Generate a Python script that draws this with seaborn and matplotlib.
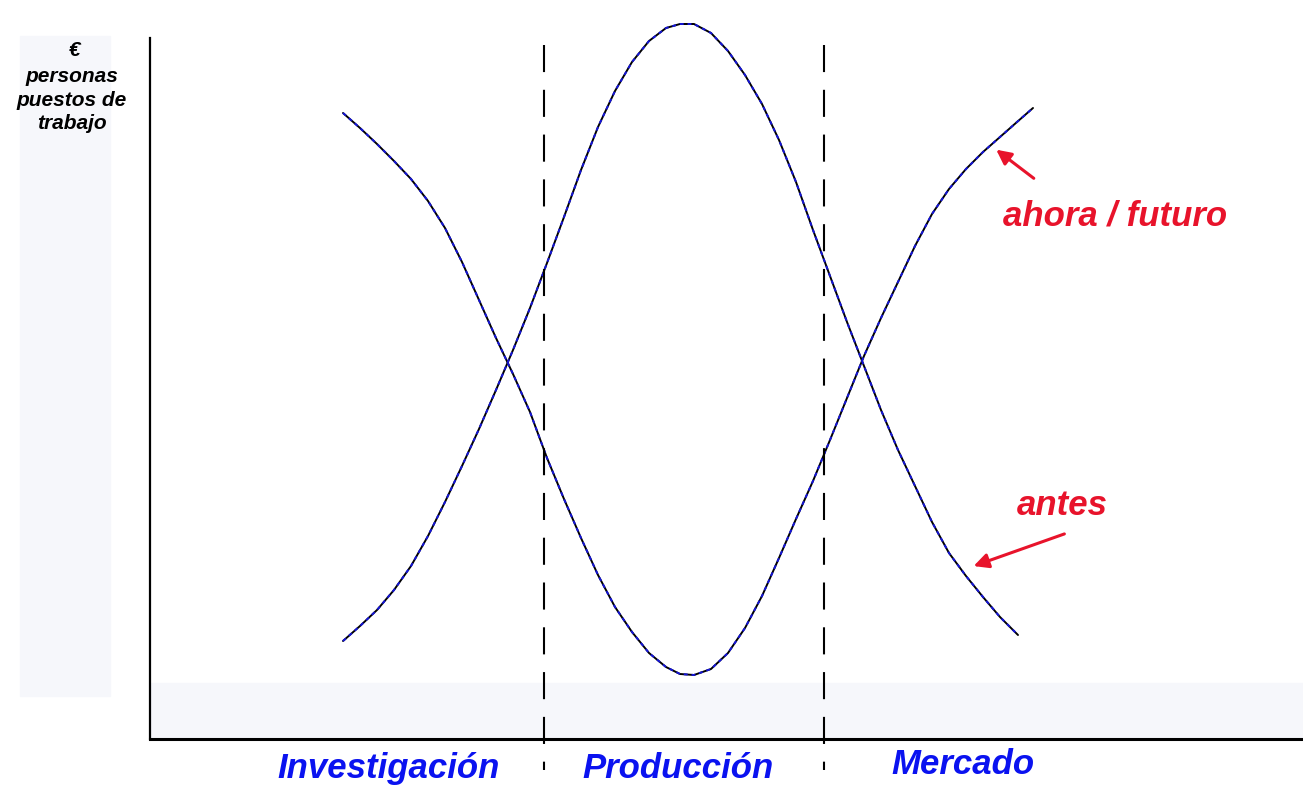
import pandas as pd
import matplotlib.pyplot as plt
import seaborn as sns
from matplotlib.patches import Rectangle

# values, in the chart's own units
# (x: 0-1153 along the horizontal axis, y: 0-701 up the vertical axis)
x_ahora = [193, 210, 227, 244, 261, 278, 295, 312, 329, 346, 363, 380, 397, 414, 431, 448, 465,
           482, 499, 516, 530, 544, 561, 578, 595, 612, 629, 646, 663, 680, 697, 714, 731, 748,
           765, 782, 799, 816, 833, 850, 867, 883]
y_ahora = [626, 611, 595, 578, 560, 538, 511, 477, 439, 401, 365, 327, 281, 240, 201, 164, 132,
           107, 86, 72, 65, 64, 70, 86, 111, 143, 181, 220, 258, 299, 341, 383, 421, 457,
           493, 525, 550, 570, 587, 602, 617, 631]

x_antes = [193, 210, 227, 244, 261, 278, 295, 312, 329, 346, 363, 380, 397, 414, 431, 448, 465,
           482, 499, 516, 530, 544, 561, 578, 595, 612, 629, 646, 663, 680, 697, 714, 731, 748,
           765, 782, 799, 816, 833, 850, 868]
y_antes = [98, 113, 129, 149, 173, 203, 237, 273, 310, 349, 389, 431, 476, 522, 569, 612, 648,
           677, 698, 711, 715, 715, 706, 688, 664, 635, 599, 557, 509, 463, 417, 373, 329, 289,
           253, 217, 186, 163, 142, 122, 104]

fases = ["Investigación", "Producción", "Mercado"]
fase_x = [239, 528, 813]
fase_y = [-39, -39, -35]
limites = [394, 674]

df = pd.concat([
    pd.DataFrame({"x": x_ahora, "y": y_ahora, "serie": "ahora / futuro"}),
    pd.DataFrame({"x": x_antes, "y": y_antes, "serie": "antes"}),
])

sns.set_style("white")
plt.rcParams["font.family"] = ["Liberation Sans", "DejaVu Sans"]

fig = plt.figure(figsize=(13.03, 7.86), dpi=100)

# faint background smudge on the left
fig.patches.append(Rectangle((20 / 1303, 90 / 786), 90 / 1303, 660 / 786,
                             transform=fig.transFigure, color="#f6f7fb", zorder=0))

ax = fig.add_axes([150 / 1303, 47 / 786, 1153 / 1303, 739 / 786])
ax.set_xlim(0, 1153)
ax.set_ylim(0, 739)
ax.patch.set_alpha(0)
ax.axhspan(0, 56, color="#f6f7fb", zorder=0)

sns.lineplot(data=df, x="x", y="y", hue="serie", palette=["black", "black"],
             estimator=None, sort=False, legend=False, lw=1.4, ax=ax)
for xs, ys in [(x_ahora, y_ahora), (x_antes, y_antes)]:
    ax.plot(xs, ys, color="#1414d8", lw=1.4, ls=(0, (2, 2)))

for xv in limites:
    ax.plot([xv, xv], [694, -31], color="black", lw=1.5, ls=(0, (13, 8.5)), clip_on=False)

sns.despine(ax=ax)
ax.spines["left"].set_bounds(0, 701)
ax.spines["left"].set_linewidth(1.6)
ax.spines["bottom"].set_linewidth(2.2)
ax.spines["left"].set_color("black")
ax.spines["bottom"].set_color("black")
ax.set_xticks([])
ax.set_yticks([])
ax.set_xlabel("")
ax.set_ylabel("")

for name, fx, fy in zip(fases, fase_x, fase_y):
    ax.text(fx, fy, name, color="#0a12f0", fontsize=25, fontweight="bold", style="italic",
            ha="center", va="baseline", clip_on=False)

red = "#e8132b"
ax.text(965, 514, "ahora / futuro", color=red, fontsize=25, fontweight="bold",
        style="italic", ha="center", va="baseline")
ax.text(912, 224, "antes", color=red, fontsize=25, fontweight="bold",
        style="italic", ha="center", va="baseline")
ax.annotate("", xy=(844, 591), xytext=(886, 559),
            arrowprops=dict(arrowstyle="-|>", color=red, lw=2.2, mutation_scale=22))
ax.annotate("", xy=(821, 172), xytext=(917, 206),
            arrowprops=dict(arrowstyle="-|>", color=red, lw=2.2, mutation_scale=22))

fig.text(75 / 1303, 1 - 41 / 786, "€", fontsize=15, fontweight="bold", style="italic",
         color="black", ha="center", va="top")
fig.text(72 / 1303, 1 - 67 / 786, "personas\npuestos de\ntrabajo", fontsize=15,
         fontweight="bold", style="italic", color="black", ha="center", va="top",
         linespacing=1.3)

fig.savefig("out.png", dpi=100)
